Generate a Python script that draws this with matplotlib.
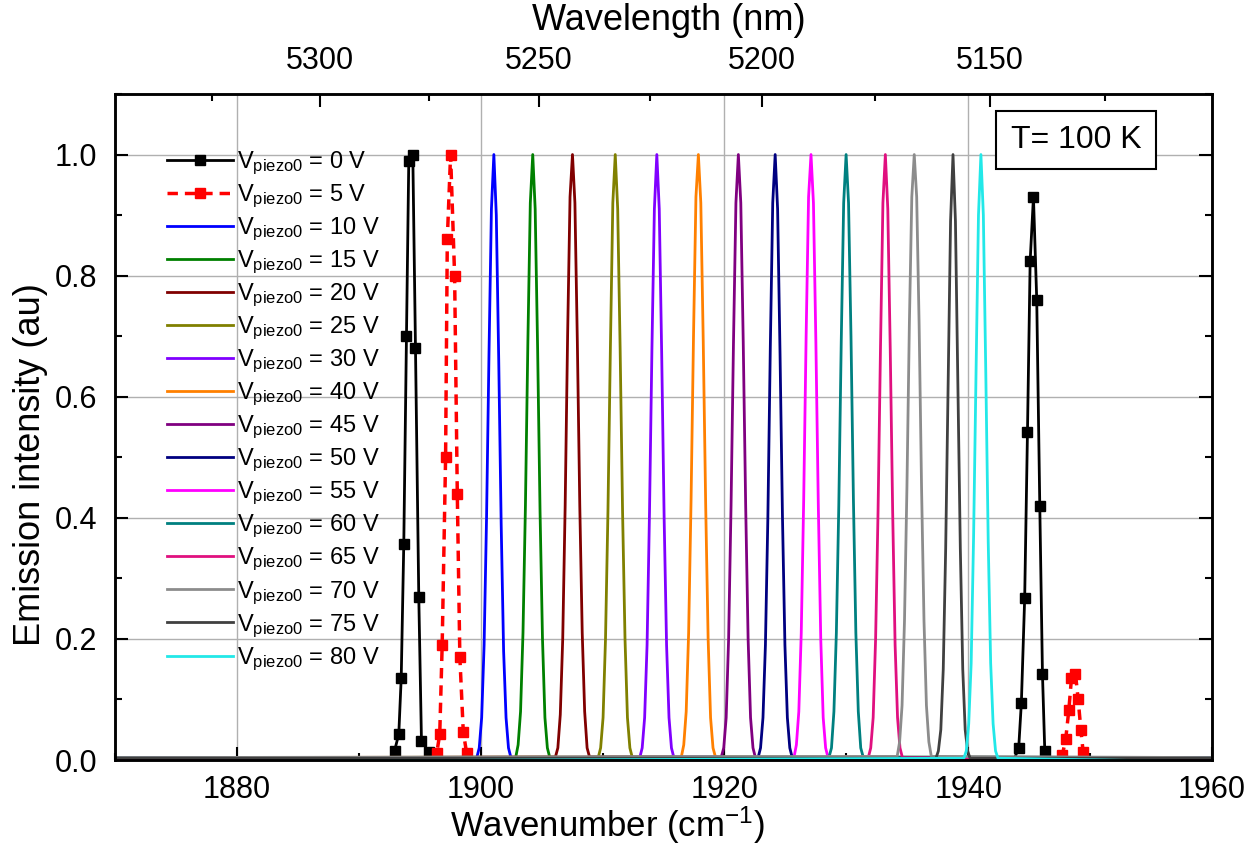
import matplotlib
matplotlib.use("Agg")
import matplotlib.pyplot as plt
from matplotlib.lines import Line2D
from matplotlib.ticker import MultipleLocator, FixedLocator, NullFormatter

plt.rcParams['font.family'] = ['Liberation Sans', 'DejaVu Sans']
plt.rcParams['mathtext.fontset'] = 'custom'
plt.rcParams['mathtext.rm'] = 'Liberation Sans'
plt.rcParams['mathtext.it'] = 'Liberation Sans:italic'

# 0 V and 5 V traces (mode hop, so two peaks each); markers sit on the
# measured points, the other points are the flat baseline
v0_x = [1870.0, 1892.6,
        1892.93, 1893.28, 1893.48, 1893.69, 1893.91, 1894.10, 1894.43,
        1894.65, 1894.92, 1895.14, 1895.74,
        1896.5, 1943.8,
        1944.14, 1944.36, 1944.63, 1944.86, 1945.08, 1945.35, 1945.62,
        1945.87, 1946.09, 1946.28,
        1946.7, 1960.0]
v0_y = [0.003, 0.003,
        0.015, 0.043, 0.136, 0.357, 0.70, 0.99, 1.00,
        0.68, 0.27, 0.032, 0.013,
        0.003, 0.003,
        0.02, 0.095, 0.267, 0.542, 0.824, 0.93, 0.76,
        0.42, 0.142, 0.015,
        0.003, 0.003]
v0_marked = list(range(2, 13)) + list(range(15, 25))

v5_x = [1870.0, 1896.1,
        1896.40, 1896.64, 1896.84, 1897.12, 1897.26, 1897.53, 1897.86,
        1898.08, 1898.29, 1898.57, 1898.84,
        1899.3, 1947.3,
        1947.73, 1948.00, 1948.25, 1948.47, 1948.80, 1949.02, 1949.24,
        1949.43,
        1949.8, 1960.0]
v5_y = [0.003, 0.003,
        0.012, 0.043, 0.19, 0.50, 0.86, 1.00, 0.80,
        0.44, 0.17, 0.047, 0.012,
        0.003, 0.003,
        0.009, 0.035, 0.082, 0.135, 0.142, 0.10, 0.05,
        0.013,
        0.003, 0.003]
v5_marked = list(range(2, 13)) + list(range(15, 23))

# single-mode traces: peak centre (cm-1) and intensity at offsets from the centre
offsets = [-1.4, -1.2, -1.0, -0.8, -0.6, -0.4, -0.2, 0.0,
           0.2, 0.4, 0.6, 0.8, 1.0, 1.2, 1.4]
volts = [10, 15, 20, 25, 30, 40, 45, 50, 55, 60, 65, 70, 75, 80]
centres = [1901.08, 1904.27, 1907.53, 1911.04, 1914.45, 1917.86, 1921.14,
           1924.16, 1927.10, 1929.98, 1933.20, 1935.57, 1938.75, 1941.04]
profiles = [
    [0.004, 0.02, 0.07, 0.19, 0.40, 0.67, 0.91, 1.00, 0.90, 0.66, 0.39, 0.18, 0.07, 0.02, 0.004],
    [0.004, 0.025, 0.08, 0.21, 0.42, 0.69, 0.92, 1.00, 0.91, 0.68, 0.41, 0.20, 0.07, 0.02, 0.004],
    [0.005, 0.02, 0.075, 0.20, 0.42, 0.70, 0.93, 1.00, 0.92, 0.69, 0.42, 0.21, 0.08, 0.02, 0.005],
    [0.004, 0.02, 0.07, 0.20, 0.41, 0.68, 0.92, 1.00, 0.91, 0.68, 0.41, 0.20, 0.07, 0.02, 0.004],
    [0.004, 0.02, 0.07, 0.19, 0.41, 0.68, 0.91, 1.00, 0.91, 0.67, 0.40, 0.19, 0.07, 0.02, 0.004],
    [0.005, 0.025, 0.08, 0.21, 0.43, 0.70, 0.93, 1.00, 0.92, 0.69, 0.42, 0.20, 0.07, 0.02, 0.005],
    [0.005, 0.02, 0.07, 0.20, 0.42, 0.69, 0.92, 1.00, 0.92, 0.69, 0.42, 0.20, 0.07, 0.02, 0.004],
    [0.004, 0.02, 0.07, 0.19, 0.40, 0.68, 0.92, 1.00, 0.91, 0.67, 0.40, 0.19, 0.07, 0.02, 0.004],
    [0.004, 0.025, 0.08, 0.21, 0.43, 0.70, 0.93, 1.00, 0.92, 0.69, 0.42, 0.20, 0.07, 0.02, 0.004],
    [0.005, 0.02, 0.08, 0.21, 0.42, 0.69, 0.92, 1.00, 0.92, 0.70, 0.43, 0.21, 0.08, 0.02, 0.005],
    [0.004, 0.02, 0.07, 0.20, 0.41, 0.68, 0.92, 1.00, 0.91, 0.68, 0.41, 0.19, 0.07, 0.02, 0.004],
    [0.006, 0.03, 0.09, 0.23, 0.45, 0.72, 0.93, 1.00, 0.93, 0.72, 0.45, 0.23, 0.09, 0.03, 0.006],
    [0.003, 0.015, 0.05, 0.15, 0.35, 0.62, 0.89, 1.00, 0.89, 0.62, 0.35, 0.15, 0.05, 0.015, 0.003],
    [0.003, 0.015, 0.06, 0.16, 0.37, 0.64, 0.90, 1.00, 0.90, 0.64, 0.36, 0.16, 0.06, 0.015, 0.003],
]
colors = ['#0000ff', '#008000', '#800000', '#808000', '#8000ff', '#ff8000',
          '#800080', '#000080', '#ff00ff', '#008080', '#e0107f', '#8c8c8c',
          '#404040', '#22e8e8']
baseline = [0.004, 0.004, 0.003, 0.004, 0.003, 0.004, 0.003,
            0.004, 0.003, 0.004, 0.003, 0.004, 0.003, -0.003]

wl_major = [5300, 5250, 5200, 5150]
wl_minor = [5325, 5275, 5225, 5175, 5125]

fig = plt.figure(figsize=(12.45, 8.49), dpi=100)
ax = fig.add_axes([0.0924, 0.1048, 0.8811, 0.7845])

ax.grid(True, color='#b0b0b0', linewidth=1.0)
ax.set_axisbelow(True)

def vlabel(v):
    return r'$\mathrm{V_{piezo0}}$ = %d V' % v

handles = []
ax.plot(v0_x, v0_y, color='black', lw=2.0, marker='s', ms=7, markevery=v0_marked)
handles.append(Line2D([], [], color='black', lw=2.0, marker='s', ms=7, label=vlabel(0)))
red_ls = (0, (3, 2))
ax.plot(v5_x, v5_y, color='#ff0000', lw=2.5, ls=red_ls, marker='s', ms=7,
        markevery=v5_marked)
handles.append(Line2D([], [], color='#ff0000', lw=2.5, ls=red_ls, marker='s', ms=7,
                      label=vlabel(5)))

for v, c0, prof, col, b in zip(volts, centres, profiles, colors, baseline):
    xs = [1870.0] + [c0 + o for o in offsets] + [1960.0]
    ys = [b] + prof + [b]
    h, = ax.plot(xs, ys, color=col, lw=2.0, label=vlabel(v))
    handles.append(h)

ax.set_xlim(1870, 1960)
ax.set_ylim(0, 1.1)
ax.xaxis.set_major_locator(MultipleLocator(20))
ax.xaxis.set_minor_locator(MultipleLocator(10))
ax.yaxis.set_major_locator(FixedLocator([0.0, 0.2, 0.4, 0.6, 0.8, 1.0]))
ax.yaxis.set_minor_locator(MultipleLocator(0.1))
ax.yaxis.set_major_formatter(plt.FuncFormatter(lambda v, p: '%.1f' % v))
ax.tick_params(which='both', direction='in', right=True, labelsize=22, width=1.5)
ax.tick_params(which='major', length=9.5)
ax.tick_params(which='minor', length=5)
ax.tick_params(axis='x', pad=11)
ax.tick_params(axis='y', pad=13)
for s in ax.spines.values():
    s.set_linewidth(1.8)

ax.set_xlabel('Wavenumber (cm$^{-1}$)', fontsize=25)
ax.xaxis.label.set_va('center')
ax.xaxis.set_label_coords(0.449, -0.098)
ax.set_ylabel('Emission intensity (au)', fontsize=26)
ax.yaxis.label.set_va('center')
ax.yaxis.set_label_coords(-0.0775, 0.444)

ax2 = ax.twiny()
ax2.set_xlim(ax.get_xlim())
ax2.set_xticks([1e7 / w for w in wl_major])
ax2.set_xticklabels([str(w) for w in wl_major])
ax2.set_xticks([1e7 / w for w in wl_minor], minor=True)
ax2.xaxis.set_minor_formatter(NullFormatter())
ax2.tick_params(which='both', direction='in', labelsize=22, width=1.5, pad=13)
ax2.tick_params(which='major', length=9.5)
ax2.tick_params(which='minor', length=5)
ax2.set_xlabel('Wavelength (nm)', fontsize=26)
ax2.xaxis.label.set_va('center')
ax2.xaxis.set_label_coords(0.505, 1.111)
for s in ax2.spines.values():
    s.set_linewidth(1.8)

ax.legend(handles=handles, loc='upper left', bbox_to_anchor=(0.047, 0.917),
          frameon=False, fontsize=17, handlelength=2.8, handletextpad=0.2,
          labelspacing=0.24, borderpad=0, borderaxespad=0, numpoints=1)

ax.text(0.876, 0.931, 'T= 100 K', transform=ax.transAxes, fontsize=23,
        ha='center', va='center',
        bbox=dict(boxstyle='square,pad=0.45', fc='white', ec='black', lw=1.5))

fig.savefig('out.png', dpi=100)
